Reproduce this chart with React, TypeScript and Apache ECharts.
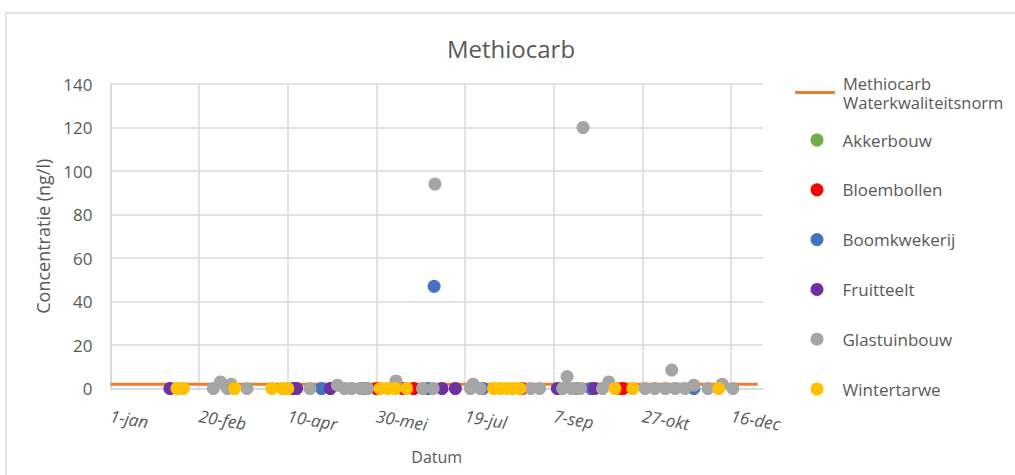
import React, { useEffect, useRef } from "react";
import * as echarts from "echarts";

// x values: days since 1 January; y values: concentration (ng/l)
const tickLabels = ["1-jan", "20-feb", "10-apr", "30-mei", "19-jul", "7-sep", "27-okt", "16-dec"];

const normName = "Methiocarb Waterkwaliteitsnorm";
const normLine: [number, number][] = [[0, 2], [365, 2]];

const akkerbouw: [number, number][] = [[142, 0], [263, 0], [286, 0]];
const bloembollen: [number, number][] = [[150, 0], [165, 0], [171, 0], [232, 0], [289, 0]];
const boomkwekerij: [number, number][] = [[119, 0], [144, 0], [179, 0], [182.5, 47], [210, 0], [271, 0], [329, 0]];
const fruitteelt: [number, number][] = [[33.5, 0], [103, 0], [105, 0], [124, 0], [187, 0], [194.5, 0], [252, 0], [273, 0]];
const glastuinbouw: [number, number][] = [
  [58, 0], [62, 3], [66, 0], [68, 2], [77, 0], [112.5, 0], [128, 1.5], [132, 0], [136, 0], [141, 0],
  [145, 0], [161, 3.5], [176, 0], [182, 0], [183, 94], [203, 0], [204.5, 2], [208.5, 0], [237, 0],
  [242, 0], [255, 0], [257.5, 5.5], [260, 0], [265, 0], [266.5, 120], [277.5, 0], [281, 3], [301.5, 0],
  [307, 0], [313, 0], [316.5, 8.5], [318.5, 0], [324, 0], [329, 1.5], [337, 0], [345, 2], [351, 0],
];
const wintertarwe: [number, number][] = [
  [37.5, 0], [41, 0], [70, 0], [91, 0], [97, 0], [100, 0], [152, 0], [156.5, 0], [160.5, 0], [167, 0],
  [216, 0], [220, 0], [224, 0], [227, 0], [231, 0], [284.5, 0], [294.5, 0], [343, 0],
];

const scatterSeries = [
  { name: "Akkerbouw", data: akkerbouw, color: "#70AD47" },
  { name: "Bloembollen", data: bloembollen, color: "#FF0000" },
  { name: "Boomkwekerij", data: boomkwekerij, color: "#4472C4" },
  { name: "Fruitteelt", data: fruitteelt, color: "#7030A0" },
  { name: "Glastuinbouw", data: glastuinbouw, color: "#A5A5A5" },
  { name: "Wintertarwe", data: wintertarwe, color: "#FFC000" },
];

const FONT = "'Open Sans', sans-serif";
const TXT = "#595959";
const GRID = "#D9D9D9";

export default function App() {
  const ref = useRef<HTMLDivElement>(null);
  useEffect(() => {
    document.body.style.margin = "0";
    const chart = echarts.init(ref.current!, undefined, { renderer: "svg" });
    chart.setOption({
      animation: false,
      backgroundColor: "#ffffff",
      textStyle: { fontFamily: FONT },
      title: {
        text: "Methiocarb",
        left: 511,
        textAlign: "center",
        top: 34,
        padding: 0,
        textStyle: { fontFamily: FONT, fontSize: 24, fontWeight: "normal", color: TXT, lineHeight: 28 },
      },
      graphic: [
        {
          type: "rect",
          shape: { x: 6, y: 13, width: 1100, height: 600 },
          style: { fill: "none", stroke: GRID, lineWidth: 1.5 },
          silent: true,
          z: -1,
        },
      ],
      legend: [
        {
          orient: "vertical",
          left: 795,
          top: 64,
          padding: 0,
          itemWidth: 40,
          itemHeight: 3,
          data: [{ name: normName, icon: "rect" }],
          formatter: () => "Methiocarb\nWaterkwaliteitsnorm",
          textStyle: { fontFamily: FONT, fontSize: 16.5, color: TXT, lineHeight: 19, padding: [19, 0, 0, 3] },
        },
        {
          orient: "vertical",
          left: 810.5,
          top: 131,
          padding: 0,
          itemWidth: 13,
          itemHeight: 13,
          itemGap: 31.8,
          data: scatterSeries.map((s) => ({ name: s.name, icon: "circle" })),
          textStyle: { fontFamily: FONT, fontSize: 17, color: TXT, lineHeight: 18, padding: [0, 0, 0, 14] },
        },
      ],
      grid: { left: 110.5, right: 252, top: 84, bottom: 86.5 },
      xAxis: {
        type: "value",
        min: 0,
        max: 368,
        interval: 50,
        name: "Datum",
        nameLocation: "middle",
        nameGap: 60,
        nameTextStyle: { fontFamily: FONT, fontSize: 16, color: TXT },
        axisLine: { show: true, onZero: false, lineStyle: { color: GRID, width: 1.5 } },
        axisTick: { show: false },
        splitLine: { show: true, showMaxLine: false, lineStyle: { color: GRID, width: 1.5 } },
        axisLabel: {
          rotate: -10,
          margin: 27,
          fontFamily: FONT,
          fontSize: 17,
          fontStyle: "italic",
          color: TXT,
          showMaxLabel: false,
          formatter: (v: number) => (v % 50 === 0 ? tickLabels[v / 50] ?? "" : ""),
        },
      },
      yAxis: {
        type: "value",
        min: 0,
        max: 140,
        interval: 20,
        name: "Concentratie (ng/l)",
        nameLocation: "middle",
        nameGap: 56,
        nameTextStyle: { fontFamily: FONT, fontSize: 18, color: TXT },
        axisLine: { show: true, lineStyle: { color: GRID, width: 1.5 } },
        axisTick: { show: false },
        splitLine: { show: true, lineStyle: { color: GRID, width: 1.5 } },
        axisLabel: { margin: 18, fontFamily: FONT, fontSize: 17, color: TXT },
      },
      series: [
        {
          name: normName,
          type: "line",
          data: normLine,
          symbol: "none",
          color: "#ED7D31",
          lineStyle: { color: "#ED7D31", width: 3 },
          z: 2,
        },
        ...scatterSeries.map((s) => ({
          name: s.name,
          type: "scatter",
          data: s.data,
          symbol: "circle",
          symbolSize: 13,
          color: s.color,
          itemStyle: { color: s.color, opacity: 1 },
          z: 3,
        })),
      ],
    });
    return () => chart.dispose();
  }, []);
  return <div ref={ref} style={{ width: 1015, height: 475 }} />;
}
